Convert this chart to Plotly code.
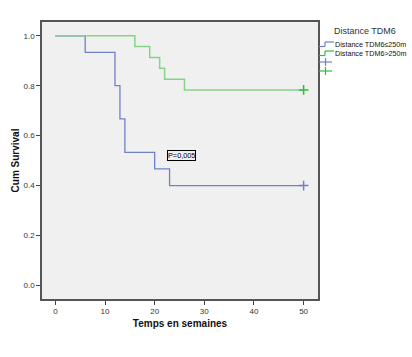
import plotly.graph_objects as go

# Kaplan-Meier step data
blue_name = "Distance TDM6\u2264250m"
blue_t = [0, 6, 12, 13, 14, 20, 23, 50]
blue_s = [1.0, 0.933, 0.800, 0.667, 0.533, 0.467, 0.400, 0.400]
blue_cens_t = [50]
blue_cens_s = [0.400]

green_name = "Distance TDM6>250m"
green_t = [0, 16, 19, 21, 22, 26, 50]
green_s = [1.0, 0.957, 0.913, 0.870, 0.826, 0.783, 0.783]
green_cens_t = [50]
green_cens_s = [0.783]

x_ticks = [0, 10, 20, 30, 40, 50]
y_ticks = [0.0, 0.2, 0.4, 0.6, 0.8, 1.0]
y_tick_labels = ["0.0", "0.2", "0.4", "0.6", "0.8", "1.0"]
legend_title = "Distance TDM6"
p_text = "P=0,005"

BLUE = "#6f82c8"
GREEN_LINE = "#86d386"
GREEN_MARK = "#2fbf3a"
FONT = "Liberation Sans, Arial, sans-serif"

W, H = 412, 357
ML, MR, MT, MB = 42, 94, 22, 58
PW, PH = W - ML - MR, H - MT - MB


def px(x):
    return (x - ML) / PW


def py(y):
    return (H - MB - y) / PH


fig = go.Figure()
fig.add_trace(go.Scatter(x=blue_t, y=blue_s, mode="lines", line_shape="hv",
                         line=dict(color=BLUE, width=1.3), name=blue_name,
                         showlegend=False))
fig.add_trace(go.Scatter(x=green_t, y=green_s, mode="lines", line_shape="hv",
                         line=dict(color=GREEN_LINE, width=1.5), name=green_name,
                         showlegend=False))
fig.add_trace(go.Scatter(x=blue_cens_t, y=blue_cens_s, mode="markers",
                         marker=dict(symbol="cross-thin", size=7,
                                     line=dict(color=BLUE, width=1.5)),
                         showlegend=False))
fig.add_trace(go.Scatter(x=green_cens_t, y=green_cens_s, mode="markers",
                         marker=dict(symbol="cross-thin", size=7,
                                     line=dict(color=GREEN_MARK, width=1.6)),
                         showlegend=False))

fig.add_annotation(x=22.4, y=0.52, xref="x", yref="y", text=p_text,
                   showarrow=False, xanchor="left", yanchor="middle",
                   font=dict(family=FONT, size=7.3, color="#000"),
                   bordercolor="#000", borderwidth=1, borderpad=0,
                   bgcolor="#f0f0f0")

# Manual legend (SPSS style, compact rows)
fig.add_annotation(x=px(332), y=py(31), xref="paper", yref="paper",
                   text=legend_title, showarrow=False, xanchor="left",
                   yanchor="middle", font=dict(family=FONT, size=9, color="#333"))
shapes = []
for name, col, yc in [(blue_name, BLUE, 44), (green_name, GREEN_MARK, 53)]:
    pts = [(319, yc + 2.5), (325, yc + 2.5), (325, yc - 2), (334, yc - 2)]
    for (x0, y0), (x1, y1) in zip(pts[:-1], pts[1:]):
        shapes.append(dict(type="line", xref="paper", yref="paper",
                           x0=px(x0), y0=py(y0), x1=px(x1), y1=py(y1),
                           line=dict(color=col, width=1.2)))
    fig.add_annotation(x=px(333), y=py(yc), xref="paper", yref="paper",
                       text=name, showarrow=False, xanchor="left", yanchor="middle",
                       font=dict(family=FONT, size=7.2, color="#111"))
for col, yc in [(BLUE, 62), (GREEN_MARK, 71)]:
    shapes.append(dict(type="line", xref="paper", yref="paper",
                       x0=px(319), y0=py(yc), x1=px(332), y1=py(yc),
                       line=dict(color=col, width=1.2)))
    shapes.append(dict(type="line", xref="paper", yref="paper",
                       x0=px(325.5), y0=py(yc - 4), x1=px(325.5), y1=py(yc + 4),
                       line=dict(color=col, width=1.2)))

fig.update_layout(
    width=W, height=H,
    margin=dict(l=ML, r=MR, t=MT, b=MB, autoexpand=False),
    paper_bgcolor="white", plot_bgcolor="#f0f0f0",
    font=dict(family=FONT, size=8, color="#222"),
    showlegend=False,
    shapes=shapes,
    xaxis=dict(range=[-2.7, 52.9], tickvals=x_ticks, ticks="outside", ticklen=4,
               tickcolor="#444", showgrid=False, zeroline=False, automargin=False,
               showline=True, linecolor="#555", linewidth=1.5, mirror=True,
               title=dict(text="<b>Temps en semaines</b>",
                          font=dict(size=10, color="#111"), standoff=5),
               tickfont=dict(size=8, color="#333")),
    yaxis=dict(range=[-0.054, 1.055], tickvals=y_ticks, ticktext=y_tick_labels,
               ticks="outside", ticklen=4, tickcolor="#444", automargin=False,
               showgrid=False, zeroline=False,
               showline=True, linecolor="#555", linewidth=1.5, mirror=True,
               title=dict(text="<b>Cum Survival</b>",
                          font=dict(size=10, color="#111"), standoff=2),
               tickfont=dict(size=8, color="#333")),
)

fig.write_html("out.html", config={"displayModeBar": False},
               post_script="document.body.style.margin='0';"
                           "document.body.style.overflow='hidden';")
